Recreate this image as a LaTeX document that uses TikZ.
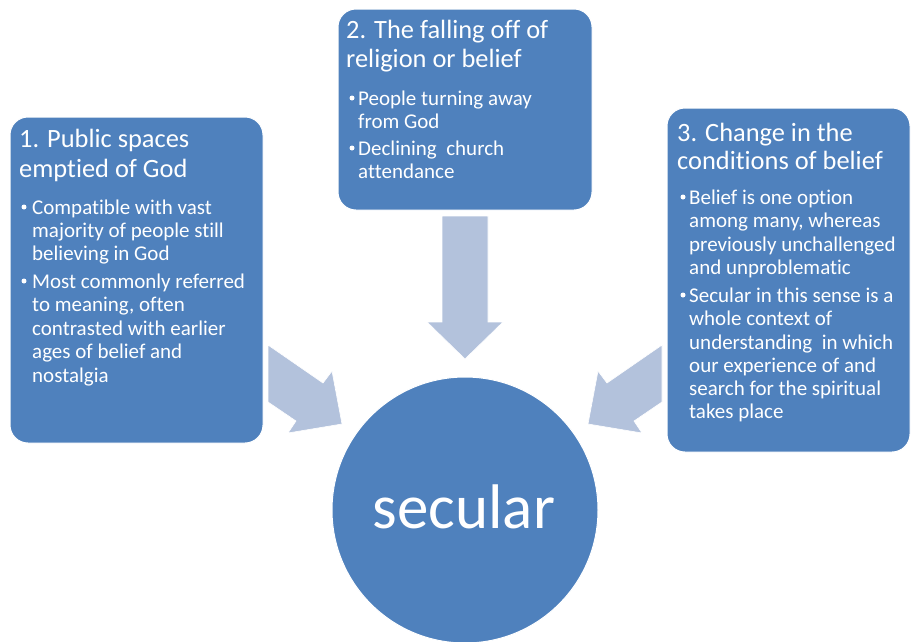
\documentclass[tikz,border=0pt]{standalone}
\usepackage{fontspec}
\setmainfont{Carlito}[Ligatures={NoCommon}]
\definecolor{boxblue}{HTML}{4F81BD}
\definecolor{arrowblue}{HTML}{B3C2DC}
\begin{document}
\begin{tikzpicture}[x=1pt,y=-1pt,
  boxstyle/.style={fill=boxblue,draw=white,line width=1pt,rounded corners=18pt},
  arrowstyle/.style={fill=arrowblue,draw=white,line width=0.6pt},
  titletext/.style={anchor=base west,inner sep=0pt,text=white,font=\fontsize{26.4}{29}\selectfont},
  bodytext/.style={anchor=base west,inner sep=0pt,text=white,font=\fontsize{21}{23.4}\selectfont},
  bulletdot/.style={circle,fill=white,minimum size=5pt,inner sep=0pt}]
\useasboundingbox (0,0) rectangle (911,641);
% boxes
\draw[boxstyle] (10,117) rectangle (263,443);
\draw[boxstyle] (338,9) rectangle (592,210);
\draw[boxstyle] (667,108) rectangle (910,452);
% block arrows
\draw[arrowstyle] (442,216) -- (488,216) -- (488,322) -- (503,322) -- (465,359) -- (427,322) -- (442,322) -- cycle;
\draw[arrowstyle] (268,345) -- (323,383) -- (332,371) -- (342,424) -- (288,433) -- (296,421) -- (268,402) -- cycle;
\draw[arrowstyle] (662,345) -- (607,383) -- (598,371) -- (588,424) -- (642,433) -- (634,421) -- (662,402) -- cycle;
% circle
\node[circle,fill=boxblue,draw=white,line width=1pt,minimum size=266pt,inner sep=0pt] (sec) at (465,510) {};
\node[anchor=base,inner sep=0pt,text=white,font=\fontsize{63}{70}\selectfont] (seclabel) at (464,528) {secular};
% box 1 text
\node[titletext] (a1) at (19,147) {1. Public spaces};
\node[titletext] (a2) at (19,177) {emptied of God};
\node[bulletdot] (ab1) at (24,207) {};
\node[bodytext] (a3) at (32,214) {Compatible with vast};
\node[bodytext] (a4) at (32,237) {majority of people still};
\node[bodytext] (a5) at (32,260) {believing in God};
\node[bulletdot] (ab2) at (24,281) {};
\node[bodytext] (a6) at (32,288) {Most commonly referred};
\node[bodytext] (a7) at (32,311) {to meaning, often};
\node[bodytext] (a8) at (32,335) {contrasted with earlier};
\node[bodytext] (a9) at (32,358) {ages of belief and};
\node[bodytext] (a10) at (32,382) {nostalgia};
% box 2 text
\node[titletext] (b1) at (346,38) {2. The falling off of};
\node[titletext] (b2) at (346,67) {religion or belief};
\node[bulletdot] (bb1) at (352,98) {};
\node[bodytext] (b3) at (358,105) {People turning away};
\node[bodytext] (b4) at (358,128) {from God};
\node[bulletdot] (bb2) at (352,148) {};
\node[bodytext] (b5) at (358,155) {Declining~ church};
\node[bodytext] (b6) at (358,178) {attendance};
% box 3 text
\node[titletext] (c1) at (677,141) {3. Change in the};
\node[titletext] (c2) at (677,169) {conditions of belief};
\node[bulletdot] (cb1) at (683,197) {};
\node[bodytext] (c3) at (689,204) {Belief is one option};
\node[bodytext] (c4) at (689,227) {among many, whereas};
\node[bodytext] (c5) at (689,251) {previously unchallenged};
\node[bodytext] (c6) at (689,274) {and unproblematic};
\node[bulletdot] (cb2) at (683,295) {};
\node[bodytext] (c7) at (689,302) {Secular in this sense is a};
\node[bodytext] (c8) at (689,325) {whole context of};
\node[bodytext] (c9) at (689,349) {understanding~ in which};
\node[bodytext] (c10) at (689,372) {our experience of and};
\node[bodytext] (c11) at (689,395) {search for the spiritual};
\node[bodytext] (c12) at (689,418) {takes place};
\end{tikzpicture}
\end{document}
